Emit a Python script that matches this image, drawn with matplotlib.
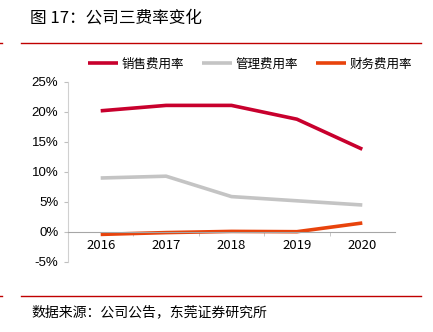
import matplotlib.pyplot as plt
from matplotlib.lines import Line2D
from matplotlib.ticker import FuncFormatter, FixedLocator

plt.rcParams['font.family'] = ['Noto Sans CJK SC', 'DejaVu Sans']

years = ['2016', '2017', '2018', '2019', '2020']
sales_rate = [20.2, 21.1, 21.1, 18.8, 13.8]
admin_rate = [9.0, 9.3, 5.9, 5.2, 4.5]
finance_rate = [-0.4, -0.1, 0.1, 0.05, 1.5]
names = ['销售费用率', '管理费用率', '财务费用率']
colors = ['#C8002D', '#C4C4C4', '#E8430C']

fig = plt.figure(figsize=(4.33, 3.32), dpi=100)

# 标题和上下红线
fig.text(30 / 433, 1 - 18 / 332, '图 17：公司三费率变化', fontsize=12, va='center', ha='left')
fig.add_artist(Line2D([21 / 433, 421 / 433], [1 - 43 / 332] * 2, color='#C00000', lw=1))
fig.add_artist(Line2D([0, 2 / 433], [1 - 43 / 332] * 2, color='#C00000', lw=1))
fig.add_artist(Line2D([21 / 433, 421 / 433], [1 - 296 / 332] * 2, color='#C00000', lw=1))
fig.add_artist(Line2D([0, 2 / 433], [1 - 296 / 332] * 2, color='#C00000', lw=1))
fig.text(31 / 433, 1 - 312 / 332, '数据来源：公司公告，东莞证券研究所', fontsize=10, va='center', ha='left')

ax = fig.add_axes([68 / 433, 1 - 262 / 332, 327 / 433, 180 / 332])
x = range(len(years))
for vals, c, n in zip([sales_rate, admin_rate, finance_rate], colors, names):
    ax.plot(x, vals, color=c, lw=2.6, label=n, solid_capstyle='butt')

ax.set_xlim(-0.5, len(years) - 0.5)
ax.set_ylim(-5, 25)
ax.set_yticks(range(-5, 26, 5))
ax.yaxis.set_major_formatter(FuncFormatter(lambda v, p: f'{v:.0f}%'))
ax.set_xticks(list(x))
ax.set_xticklabels(years)
ax.xaxis.set_minor_locator(FixedLocator([i + 0.5 for i in range(len(years) - 1)]))
for lab in ax.get_xticklabels() + ax.get_yticklabels():
    lab.set_family('Liberation Sans')

for s in ['top', 'right']:
    ax.spines[s].set_visible(False)
ax.spines['bottom'].set_position(('data', 0))
ax.spines['bottom'].set_color('#A6A6A6')
ax.spines['left'].set_color('#D0D0D0')
ax.spines['left'].set_bounds(-5, 25)
ax.tick_params(axis='y', length=3, color='#BFBFBF', labelsize=9.5, pad=4)
ax.tick_params(axis='x', which='major', length=0, labelsize=9.5, pad=5)
ax.tick_params(axis='x', which='minor', length=3, color='#BFBFBF', direction='out')
ax.set_zorder(1)

fig.legend(loc='center', bbox_to_anchor=(250 / 433, 1 - 64 / 332), ncol=3, frameon=False,
           fontsize=9, handlelength=2.4, handletextpad=0.3, columnspacing=1.4)

plt.savefig('out.png', dpi=100)
